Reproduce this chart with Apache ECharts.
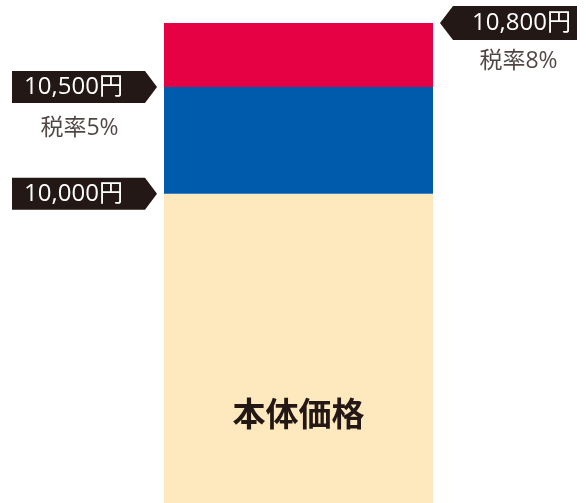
<!DOCTYPE html>
<html>
<head>
<meta charset="utf-8">
<script src="https://cdn.jsdelivr.net/npm/echarts@6/dist/echarts.min.js"></script>
<style>
html,body{margin:0;padding:0;background:#fff;}
#chart{width:586px;height:503px;}
</style>
</head>
<body>
<div id="chart"></div>
<script>
// ---- data ----
const categories = ['価格'];
const basePrice = [10000];
const tax5Part = [500];
const tax8Part = [300];
const baseLabel = '本体価格';
const tagValues = [10000, 10500, 10800];
const tagTexts = ['10,000円', '10,500円', '10,800円'];
const tagSides = ['left', 'left', 'right'];
const noteValues = [10500, 10800];
const noteTexts = ['税率5%', '税率8%'];
const noteSides = ['left', 'right'];
const axisMin = 8550;
const axisMax = 10800;

// ---- styles ----
const FONT = '"Open Sans", "Noto Sans CJK JP", sans-serif';
const BOLD_FONT = '"Noto Sans CJK JP", "Noto Sans", sans-serif';
const DARK = '#231815';
const leftTagPath = 'path://M0,0 L133,0 L145,16 L133,32 L0,32 Z';
const rightTagPath = 'path://M0,16 L13,0 L137,0 L137,32 L13,32 Z';

const tagData = tagValues.map((v, i) => {
  const left = tagSides[i] === 'left';
  return {
    value: [categories[0], v],
    symbol: left ? leftTagPath : rightTagPath,
    symbolSize: left ? [145, 32] : [137, 34],
    symbolOffset: left ? [-214, 0] : [210, 0],
    label: {
      show: true,
      position: 'inside',
      formatter: tagTexts[i],
      offset: left ? [-11, 0] : [13, 0]
    }
  };
});

const noteData = noteValues.map((v, i) => {
  const left = noteSides[i] === 'left';
  return {
    value: [categories[0], v],
    symbolOffset: left ? [-219, 41] : [220, 38],
    label: {
      show: true,
      position: 'inside',
      formatter: noteTexts[i]
    }
  };
});

const chart = echarts.init(document.getElementById('chart'), null, {renderer: 'canvas'});
chart.setOption({
  animation: false,
  backgroundColor: '#ffffff',
  grid: {left: 164, right: 153, top: 23, bottom: 0, containLabel: false},
  xAxis: {type: 'category', data: categories, show: false, boundaryGap: true},
  yAxis: {type: 'value', min: axisMin, max: axisMax, show: false, splitLine: {show: false}},
  series: [
    {
      type: 'bar', stack: 'price', data: basePrice, barWidth: '100%',
      itemStyle: {color: '#FEE8BE'},
      label: {
        show: true, position: ['50%', '71%'], formatter: baseLabel,
        align: 'center', verticalAlign: 'middle',
        fontFamily: BOLD_FONT, fontWeight: 'bold', fontSize: 33, color: DARK
      }
    },
    {
      type: 'bar', stack: 'price', data: tax5Part, barWidth: '100%',
      itemStyle: {color: '#005BAC'}
    },
    {
      type: 'bar', stack: 'price', data: tax8Part, barWidth: '100%',
      itemStyle: {color: '#E60044'}
    },
    {
      type: 'scatter', data: tagData, z: 5,
      itemStyle: {color: DARK, opacity: 1},
      label: {color: '#ffffff', fontFamily: FONT, fontSize: 24},
      emphasis: {disabled: true}
    },
    {
      type: 'scatter', data: noteData, z: 5,
      symbol: 'rect', symbolSize: [1, 1],
      itemStyle: {color: 'rgba(0,0,0,0)'},
      label: {color: DARK, fontFamily: FONT, fontSize: 23},
      emphasis: {disabled: true}
    }
  ]
});
</script>
</body>
</html>
